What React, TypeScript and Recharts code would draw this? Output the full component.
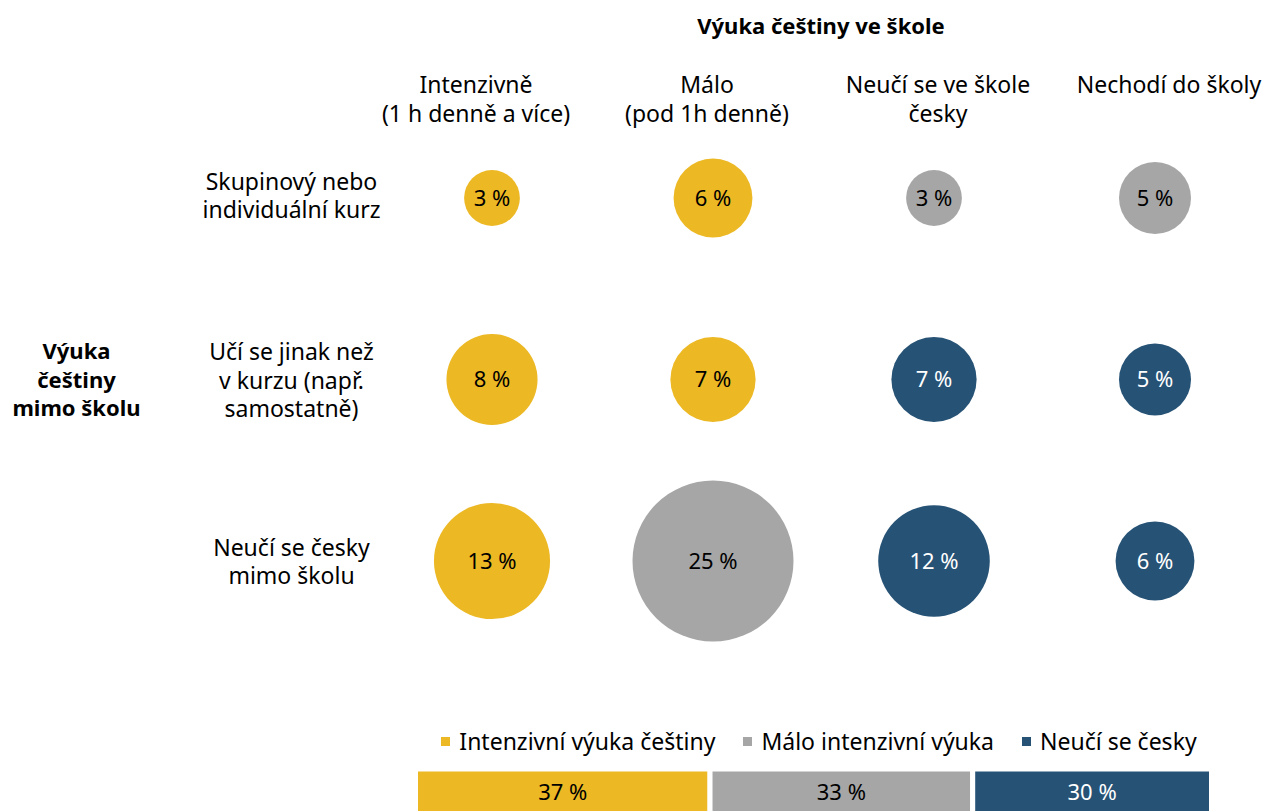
import { ScatterChart, Scatter, XAxis, YAxis, ZAxis, LabelList, BarChart, Bar, Legend } from 'recharts'

const columnLabels = [
  ['Intenzivně', '(1 h denně a více)'],
  ['Málo', '(pod 1h denně)'],
  ['Neučí se ve škole', 'česky'],
  ['Nechodí do školy'],
]
const rowLabels = [
  ['Skupinový nebo', 'individuální kurz'],
  ['Učí se jinak než', 'v kurzu (např.', 'samostatně)'],
  ['Neučí se česky', 'mimo školu'],
]
// percent per cell, rows x columns
const cellValues = [
  [3, 6, 3, 5],
  [8, 7, 7, 5],
  [13, 25, 12, 6],
]
const cellGroups = [
  ['intense', 'intense', 'low', 'low'],
  ['intense', 'intense', 'none', 'none'],
  ['intense', 'low', 'none', 'none'],
]
const groupKeys = ['intense', 'low', 'none']
const groupNames = ['Intenzivní výuka češtiny', 'Málo intenzivní výuka', 'Neučí se česky']
const groupTotals = [37, 33, 30]

const colors = ['#ECB824', '#A6A6A6', '#265275']
const labelColors = ['#000', '#000', '#fff']
const font = '"Noto Sans", sans-serif'

const points = groupKeys.map((key) => {
  const list: { col: number; row: number; value: number }[] = []
  cellValues.forEach((row, r) =>
    row.forEach((value, c) => {
      if (cellGroups[r][c] === key) list.push({ col: c, row: r, value })
    })
  )
  return list
})

const totals = [
  groupKeys.reduce((acc, key, i) => ({ ...acc, [key]: groupTotals[i] }), { name: 'Celkem' } as Record<string, any>),
]

const ColumnTick = (props: any) => {
  const { x, y, payload } = props
  const lines = columnLabels[payload.value] || []
  const cx = x - 16 + payload.value * 10
  return (
    <text textAnchor="middle" dominantBaseline="central" fill="#000" fontSize={23} fontFamily={font}>
      {lines.map((line, i) => (
        <tspan key={i} x={cx} y={y - 23 + i * 28.5}>
          {line}
        </tspan>
      ))}
    </text>
  )
}

const RowTick = (props: any) => {
  const { x, y, payload } = props
  const lines = rowLabels[payload.value] || []
  const start = y - ((lines.length - 1) * 28.5) / 2 - (payload.value === 0 ? 3 : 0)
  return (
    <text textAnchor="middle" dominantBaseline="central" fill="#000" fontSize={23} fontFamily={font}>
      {lines.map((line, i) => (
        <tspan key={i} x={x - 90} y={start + i * 28.5}>
          {line}
        </tspan>
      ))}
    </text>
  )
}

const LegendContent = (props: any) => {
  const { payload } = props
  return (
    <div style={{ height: 43, display: 'flex', justifyContent: 'center', alignItems: 'flex-start', fontFamily: font, fontSize: 23, lineHeight: '30px' }}>
      {(payload || []).map((entry: any, i: number) => (
        <div key={i} style={{ height: 30, display: 'flex', alignItems: 'center', marginRight: i < 2 ? 28 : 0, color: '#000' }}>
          <span style={{ width: 9, height: 9, background: entry.color, marginRight: 9, display: 'inline-block' }} />
          {entry.value}
        </div>
      ))}
    </div>
  )
}

export default function App() {
  return (
    <div style={{ position: 'absolute', left: 0, top: 0, width: 1266, height: 811, overflow: 'hidden', background: '#fff', fontFamily: font }}>
      <div style={{ position: 'absolute', left: 621, top: 10, width: 400, textAlign: 'center', fontWeight: 700, fontSize: 22, lineHeight: '30px' }}>
        Výuka češtiny ve škole
      </div>
      <div style={{ position: 'absolute', left: 0, top: 336, width: 153, textAlign: 'center', fontWeight: 700, fontSize: 22, lineHeight: '28.5px' }}>
        Výuka
        <br />
        češtiny
        <br />
        mimo školu
      </div>
      <div style={{ position: 'absolute', left: 0, top: 0 }}>
        <ScatterChart width={1266} height={660} margin={{ top: 47.25, right: 0.5, bottom: 8.25, left: 1.5 }}>
          <XAxis
            type="number"
            dataKey="col"
            orientation="top"
            domain={[-0.5, 3.5]}
            ticks={[0, 1, 2, 3]}
            interval={0}
            height={60}
            axisLine={false}
            tickLine={false}
            tickSize={0}
            tickMargin={0}
            tick={<ColumnTick />}
          />
          <YAxis
            type="number"
            dataKey="row"
            domain={[-0.5, 2.5]}
            ticks={[0, 1, 2]}
            interval={0}
            reversed
            width={380}
            axisLine={false}
            tickLine={false}
            tickSize={0}
            tickMargin={0}
            tick={<RowTick />}
          />
          <ZAxis type="number" dataKey="value" domain={[0, 25]} range={[0, 20358]} />
          {groupKeys.map((key, i) => (
            <Scatter key={key} name={groupNames[i]} data={points[i]} fill={colors[i]} isAnimationActive={false}>
              <LabelList
                dataKey="value"
                position="center"
                formatter={(v: any) => `${v} %`}
                fill={labelColors[i]}
                stroke="none"
                fontSize={22}
                fontFamily={font}
              />
            </Scatter>
          ))}
        </ScatterChart>
      </div>
      <div style={{ position: 'absolute', left: 0, top: 720 }}>
        <BarChart
          width={1266}
          height={96}
          layout="vertical"
          data={totals}
          barCategoryGap={0}
          margin={{ top: 6, right: 54.5, bottom: 0, left: 415.5 }}
        >
          <XAxis type="number" domain={[0, 100]} hide />
          <YAxis type="category" dataKey="name" hide />
          <Legend verticalAlign="top" content={<LegendContent />} wrapperStyle={{ left: 421, width: 796, top: 6 }} />
          {groupKeys.map((key, i) => (
            <Bar key={key} dataKey={key} name={groupNames[i]} stackId="a" fill={colors[i]} stroke="#fff" strokeWidth={5} isAnimationActive={false}>
              <LabelList
                dataKey={key}
                position="center"
                formatter={(v: any) => `${v} %`}
                fill={labelColors[i]}
                stroke="none"
                fontSize={22}
                fontFamily={font}
              />
            </Bar>
          ))}
        </BarChart>
      </div>
    </div>
  )
}
